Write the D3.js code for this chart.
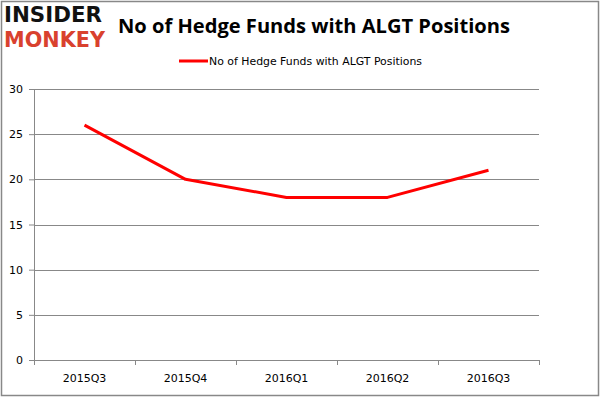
<!DOCTYPE html>
<meta charset="utf-8">
<script src="https://d3js.org/d3.v7.min.js"></script>
<style>
  body { margin: 0; }
  text { font-family: "DejaVu Sans", Verdana, sans-serif; }
</style>
<div id="chart"></div>
<script>
// chart data
var quarters = ["2015Q3", "2015Q4", "2016Q1", "2016Q2", "2016Q3"];
var funds = [26, 20, 18, 18, 21];
var yTicks = [0, 5, 10, 15, 20, 25, 30];
var seriesName = "No of Hedge Funds with ALGT Positions";

var W = 600, H = 399;
var margin = {top: 89, right: 61, bottom: 39, left: 34};
var width = W - margin.left - margin.right,
    height = H - margin.top - margin.bottom;

var svg = d3.select("#chart").append("svg")
    .attr("width", W)
    .attr("height", H);

// outer frame
svg.append("rect")
    .attr("x", 1.5).attr("y", 1.5)
    .attr("width", W - 3).attr("height", H - 5)
    .attr("fill", "white")
    .attr("stroke", "#888").attr("stroke-width", 1.5);

// logo
svg.append("text")
    .attr("x", 4).attr("y", 22)
    .attr("textLength", 98).attr("lengthAdjust", "spacingAndGlyphs")
    .style("font-family", "'DejaVu Sans'").style("font-weight", "bold")
    .style("font-size", "21px").attr("fill", "#111")
    .text("INSIDER");
svg.append("text")
    .attr("x", 4).attr("y", 47)
    .attr("textLength", 101).attr("lengthAdjust", "spacingAndGlyphs")
    .style("font-family", "'DejaVu Sans'").style("font-weight", "bold")
    .style("font-size", "22px").attr("fill", "#d9412e")
    .text("MONKEY");

// title
svg.append("text")
    .attr("x", 118).attr("y", 33)
    .attr("textLength", 392).attr("lengthAdjust", "spacingAndGlyphs")
    .style("font-family", "'Open Sans'").style("font-weight", "bold")
    .style("font-size", "20px").attr("fill", "#000")
    .text(seriesName);

// legend
svg.append("line")
    .attr("x1", 179).attr("x2", 208)
    .attr("y1", 61).attr("y2", 61)
    .attr("stroke", "#ff0000").attr("stroke-width", 3);
svg.append("text")
    .attr("x", 209).attr("y", 65)
    .attr("textLength", 213).attr("lengthAdjust", "spacingAndGlyphs")
    .style("font-size", "11px").attr("fill", "#000")
    .text(seriesName);

var g = svg.append("g")
    .attr("transform", "translate(" + margin.left + "," + margin.top + ")");

var x = d3.scaleBand()
    .domain(quarters)
    .range([0, width]);

var y = d3.scaleLinear()
    .domain([0, 30])
    .range([height, 0]);

// gridlines
g.selectAll(".grid")
  .data(yTicks)
  .enter().append("line")
    .attr("x1", 0).attr("x2", width)
    .attr("y1", function(d) { return Math.round(y(d)) + 0.5; })
    .attr("y2", function(d) { return Math.round(y(d)) + 0.5; })
    .attr("stroke", "#888").attr("stroke-width", 1);

// y axis
var yAxis = g.append("g")
    .call(d3.axisLeft(y).tickValues(yTicks).tickSize(5).tickPadding(6));
yAxis.select(".domain").attr("stroke", "#888");
yAxis.selectAll(".tick line").attr("stroke", "#888");
yAxis.selectAll("text").style("font-size", "11px").attr("fill", "#000")
    .style("font-family", "'DejaVu Sans'");

// x axis
var xAxis = g.append("g")
    .attr("transform", "translate(0," + height + ")")
    .call(d3.axisBottom(x).tickSize(0).tickPadding(14));
xAxis.select(".domain").attr("stroke", "#888");
xAxis.selectAll("text").style("font-size", "11px").attr("fill", "#000");
// category boundary ticks
g.selectAll(".xtick")
  .data(quarters.concat(["end"]))
  .enter().append("line")
    .attr("x1", function(d, i) { return Math.round(i * x.step()) + 0.5; })
    .attr("x2", function(d, i) { return Math.round(i * x.step()) + 0.5; })
    .attr("y1", height).attr("y2", height + 5)
    .attr("stroke", "#888");

// line
var line = d3.line()
    .x(function(d, i) { return x(quarters[i]) + x.bandwidth() / 2; })
    .y(function(d) { return y(d); });

g.append("path")
    .datum(funds)
    .attr("d", line)
    .attr("fill", "none")
    .attr("stroke", "#ff0000")
    .attr("stroke-width", 3)
    .attr("stroke-linejoin", "round");
</script>
